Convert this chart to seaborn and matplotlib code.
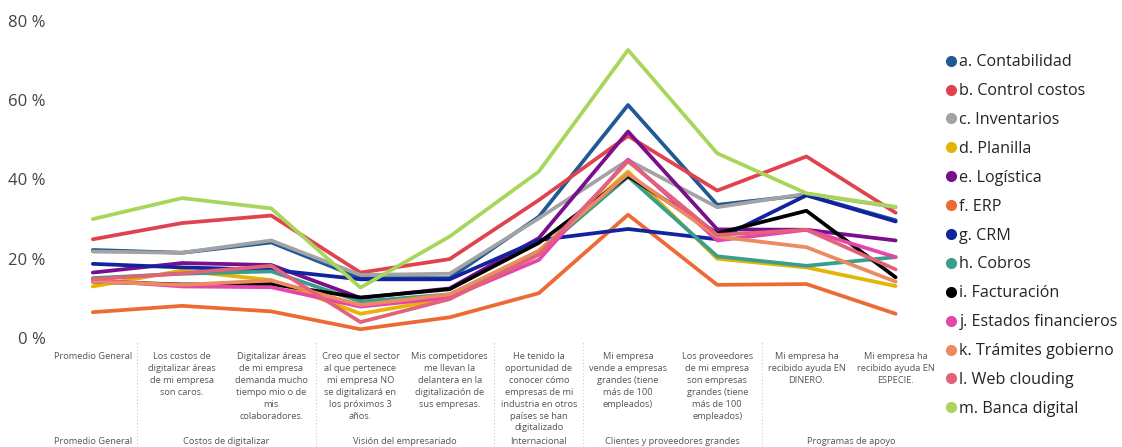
import pandas as pd
import seaborn as sns
import matplotlib.pyplot as plt
from matplotlib.lines import Line2D
import matplotlib.transforms as mtransforms

sns.set_theme(style='white')
plt.rcParams['font.family'] = ['Open Sans', 'DejaVu Sans']

# --- data -------------------------------------------------------------
categorias = [
    "Promedio General",
    "Los costos de\ndigitalizar áreas\nde mi empresa\nson caros.",
    "Digitalizar áreas\nde mi empresa\ndemanda mucho\ntiempo mio o de\nmis\ncolaboradores.",
    "Creo que el sector\nal que pertenece\nmi empresa NO\nse digitalizará en\nlos próximos 3\naños.",
    "Mis competidores\nme llevan la\ndelantera en la\ndigitalización de\nsus empresas.",
    "He tenido la\noportunidad de\nconocer cómo\nempresas de mi\nindustria en otros\npaíses se han\ndigitalizado",
    "Mi empresa\nvende a empresas\ngrandes (tiene\nmás de 100\nempleados)",
    "Los proveedores\nde mi empresa\nson empresas\ngrandes (tiene\nmás de 100\nempleados)",
    "Mi empresa ha\nrecibido ayuda EN\nDINERO.",
    "Mi empresa ha\nrecibido ayuda EN\nESPECIE.",
]
grupos = ["Promedio General", "Costos de digitalizar", "Visión del empresariado",
          "Internacional", "Clientes y proveedores grandes", "Programas de apoyo"]
grupo_pos = [0, 1.5, 3.5, 5, 6.5, 8.5]
separadores = [0.5, 2.5, 4.5, 5.5, 7.5]

contabilidad = [22.2, 21.5, 24.1, 15.1, 15.1, 30.6, 58.8, 33.6, 36.1, 29.7]
control_costos = [24.9, 29.0, 30.9, 16.5, 19.9, 34.8, 51.0, 37.2, 45.8, 31.6]
inventarios = [21.8, 21.5, 24.6, 15.9, 16.2, 30.2, 44.9, 33.0, 36.4, 33.0]
planilla = [13.0, 17.0, 14.6, 6.1, 10.0, 22.0, 42.0, 20.0, 17.8, 13.1]
logistica = [16.5, 18.9, 18.4, 10.1, 12.5, 25.2, 52.1, 27.4, 27.3, 24.6]
erp = [6.5, 8.1, 6.7, 2.2, 5.2, 11.3, 31.1, 13.4, 13.6, 6.1]
crm = [18.7, 17.8, 17.2, 14.8, 14.8, 24.7, 27.5, 24.9, 36.0, 29.4]
cobros = [15.1, 16.2, 16.8, 9.2, 11.0, 21.5, 40.7, 20.6, 18.2, 20.4]
facturacion = [14.2, 13.5, 13.6, 10.2, 12.3, 24.0, 40.9, 26.4, 32.1, 15.3]
estados_fin = [14.6, 13.0, 12.8, 7.9, 10.2, 19.7, 45.0, 24.6, 27.3, 20.4]
tramites = [14.2, 13.4, 14.5, 8.3, 11.0, 22.0, 41.4, 25.6, 22.9, 14.2]
web_clouding = [14.8, 16.3, 18.2, 4.0, 9.8, 21.0, 44.6, 26.0, 27.3, 17.3]
banca_digital = [30.0, 35.3, 32.7, 12.7, 25.6, 42.0, 72.7, 46.6, 36.5, 33.1]

series = {
    "a. Contabilidad": contabilidad,
    "b. Control costos": control_costos,
    "c. Inventarios": inventarios,
    "d. Planilla": planilla,
    "e. Logística": logistica,
    "f. ERP": erp,
    "g. CRM": crm,
    "h. Cobros": cobros,
    "i. Facturación": facturacion,
    "j. Estados financieros": estados_fin,
    "k. Trámites gobierno": tramites,
    "l. Web clouding": web_clouding,
    "m. Banca digital": banca_digital,
}
colores = ["#1F5A96", "#E0434F", "#A3A3A3", "#E3B505", "#780F8C", "#EE6A35", "#12239E",
           "#3A9E8C", "#000000", "#E645AB", "#EC8A62", "#E2627A", "#A8D65A"]

rows = []
for nombre, vals in series.items():
    for i, v in enumerate(vals):
        rows.append({"serie": nombre, "x": i, "valor": v})
df = pd.DataFrame(rows)

# --- plot -------------------------------------------------------------
fig = plt.figure(figsize=(11.22, 4.47), dpi=100)
ax = fig.add_axes([0.043, 0.244, 0.795, 0.709])

sns.lineplot(data=df, x="x", y="valor", hue="serie", palette=colores,
             linewidth=2.7, sort=False, legend=False, ax=ax)

ax.set_xlim(-0.5, 9.5)
ax.set_ylim(0, 80)
ax.set_yticks([0, 20, 40, 60, 80])
ax.set_yticklabels([f"{v} %" for v in [0, 20, 40, 60, 80]], fontsize=12, color="#444444")
ax.set_xticks(range(len(categorias)))
ax.set_xticklabels(categorias, fontsize=6.7, color="#555555", va="top",
                   linespacing=1.42)
ax.tick_params(axis="both", length=0)
ax.tick_params(axis="x", pad=10)
ax.tick_params(axis="y", pad=2)
ax.set_xlabel("")
ax.set_ylabel("")
for s in ax.spines.values():
    s.set_visible(False)

# group labels and dotted separators below the axis
trans = mtransforms.blended_transform_factory(ax.transData, fig.transFigure)
for g, p in zip(grupos, grupo_pos):
    ax.text(p, 0.013, g, transform=trans, ha="center", va="center",
            fontsize=6.7, color="#555555")
for s in separadores:
    ax.add_line(Line2D([s, s], [0.0, 0.235], transform=trans, color="#CCCCCC",
                       linestyle=(0, (1, 2)), linewidth=0.8, clip_on=False))

handles = [Line2D([], [], marker="o", linestyle="", markersize=7, color=c) for c in colores]
fig.legend(handles, list(series.keys()), loc="upper left", bbox_to_anchor=(0.835, 0.893),
           frameon=False, fontsize=11.6, handletextpad=0.0, labelspacing=0.8,
           handlelength=1.0, borderaxespad=0, labelcolor="#252423")

fig.savefig("out.png", dpi=100)
